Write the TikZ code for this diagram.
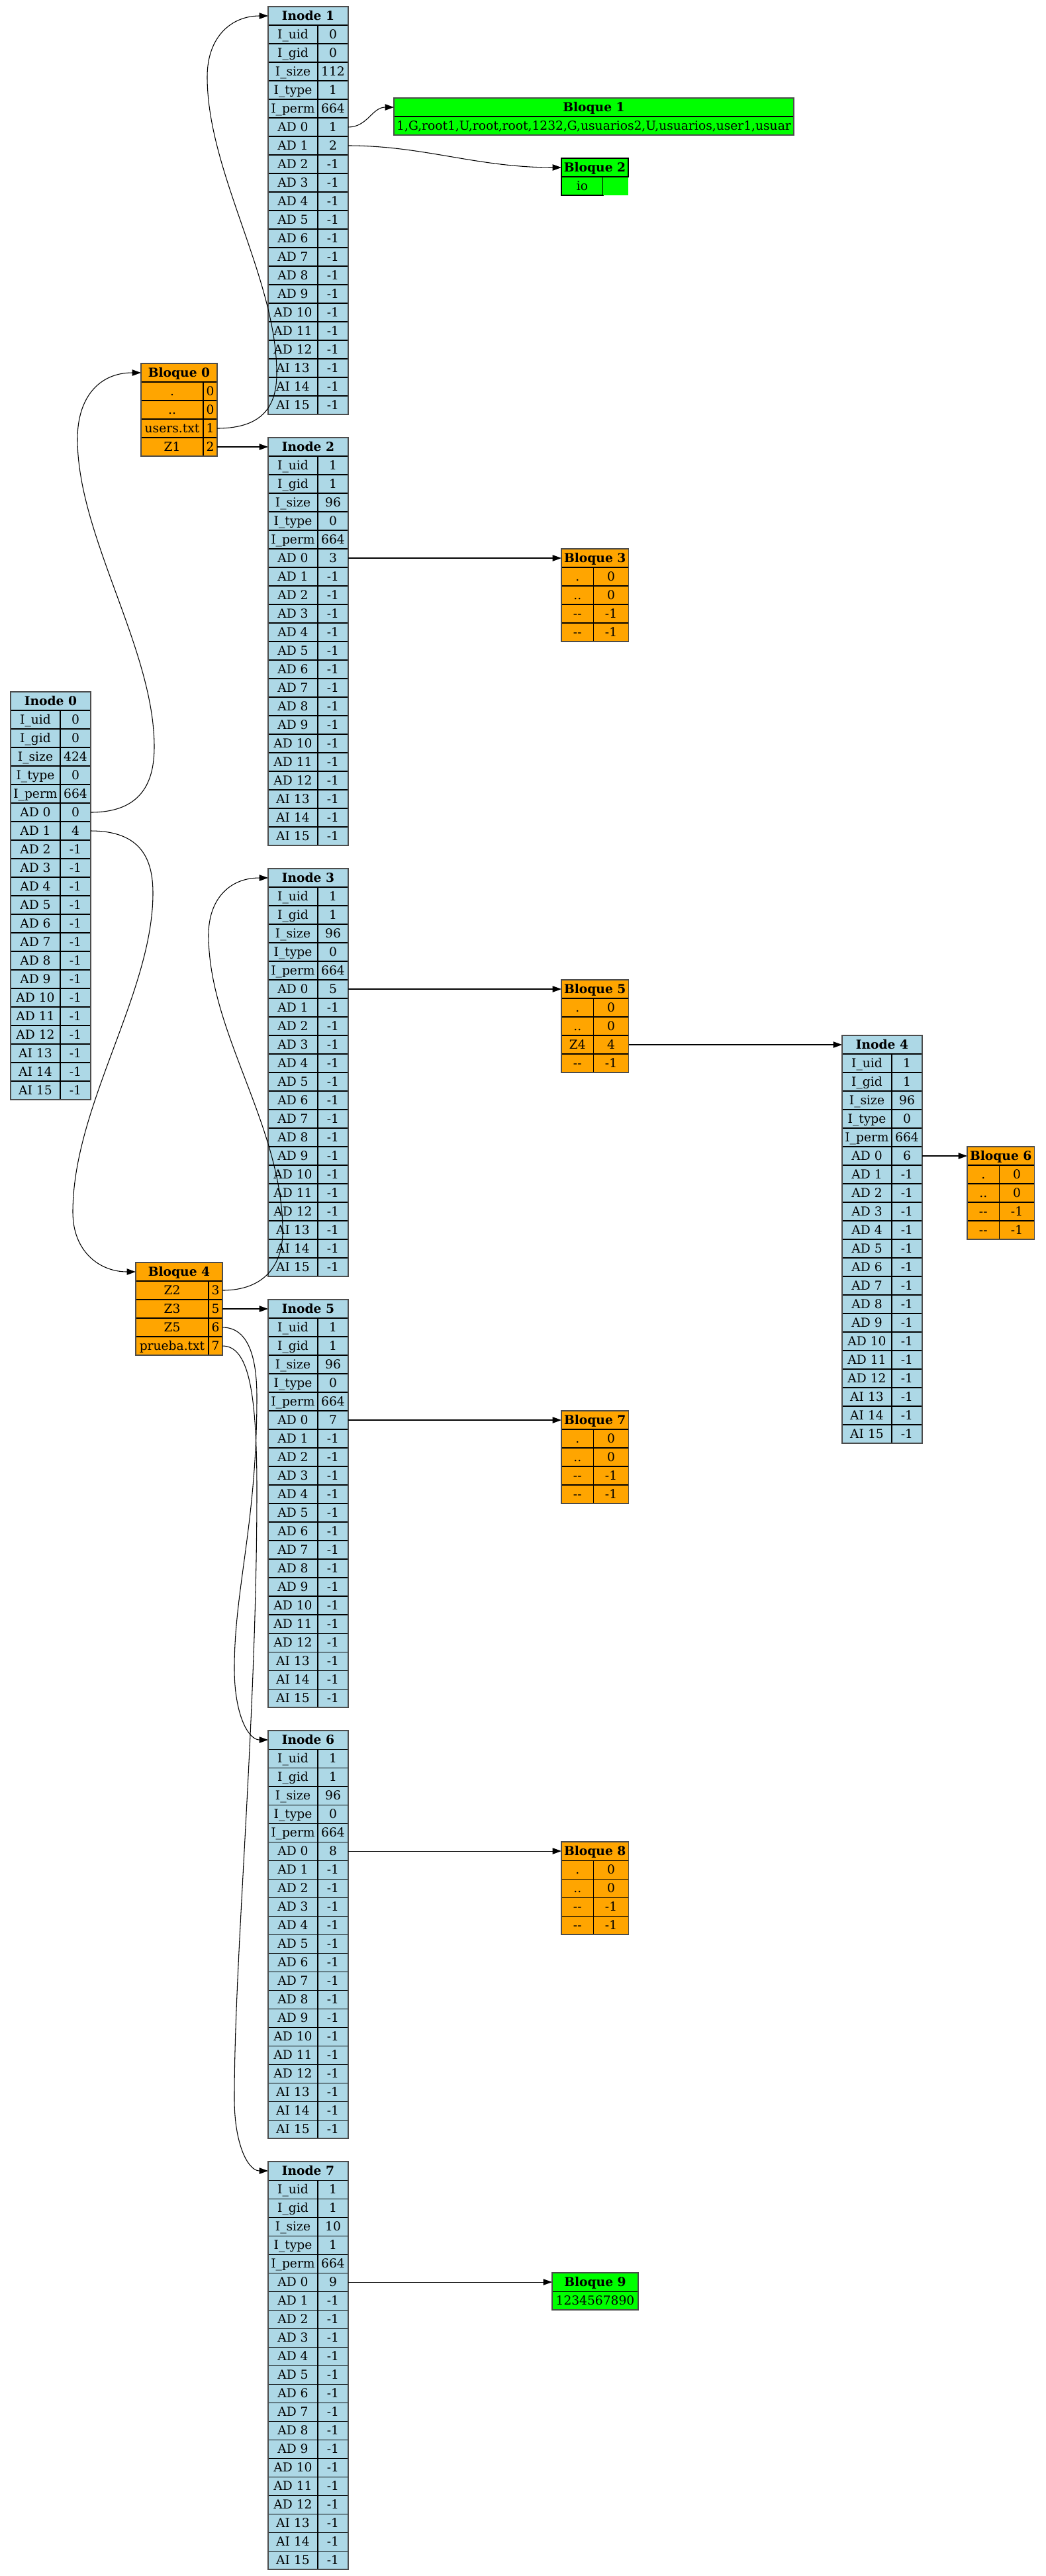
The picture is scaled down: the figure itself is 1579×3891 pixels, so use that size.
\documentclass[tikz,border=0pt]{standalone}
\usepackage{fontspec}
\setmainfont{DejaVu Serif}
\usetikzlibrary{arrows.meta,calc}
\definecolor{inodeblue}{HTML}{ADD8E6}
\definecolor{blockorange}{HTML}{FFA500}
\definecolor{blockgreen}{HTML}{00FF00}
\newcommand\fsz{\fontsize{14pt}{16pt}\selectfont}
\tikzset{
  cell/.style={draw=black, line width=0.8pt, inner sep=0pt, outer sep=0pt,
    minimum height=21pt, text height=11pt, text depth=1.2pt, anchor=north west, font=\fsz},
  hcell/.style={cell, font=\fsz\bfseries},
  frame/.style={draw=black!70, line width=1.2pt},
  edge/.style={draw=black, line width=0.8pt, -{Triangle[length=10pt,width=7pt]}}
}
\newcommand\adzero{0}
\newcommand\adone{-1}
% #1 name #2 x #3 y #4 number #5 uid #6 gid #7 size #8 type #9 perm
\newcommand\inode[9]{%
  \node[hcell, fill=inodeblue, minimum width=90.75pt] (#1) at (#2,#3) {Inode #4};
  \foreach \lab/\val [count=\k] in {I\_uid/#5, I\_gid/#6, I\_size/#7, I\_type/#8, I\_perm/#9,
      AD 0/\adzero, AD 1/\adone, AD 2/-1, AD 3/-1, AD 4/-1, AD 5/-1, AD 6/-1, AD 7/-1,
      AD 8/-1, AD 9/-1, AD 10/-1, AD 11/-1, AD 12/-1, AI 13/-1, AI 14/-1, AI 15/-1} {
    \node[cell, fill=inodeblue, minimum width=56.25pt] (#1-l\k) at ({#2},{#3+28*\k}) {\lab};
    \node[cell, fill=inodeblue, minimum width=34.5pt] (#1-v\k) at (#1-l\k.north east) {\val};
  }
  \draw[frame] (#1.north west) rectangle (#1-v21.south east);
}
% #1 name #2 x #3 y #4 title #5 left width #6 right width #7 rows
\newcommand\dirblock[7]{%
  \node[hcell, fill=blockorange, minimum width={#5+#6}] (#1) at (#2,#3) {#4};
  \foreach \lab/\val [count=\k] in {#7} {
    \node[cell, fill=blockorange, minimum width=#5] (#1-l\k) at ({#2},{#3+28*\k}) {\lab};
    \node[cell, fill=blockorange, minimum width=#6] (#1-v\k) at (#1-l\k.north east) {\val};
  }
  \draw[frame] (#1.north west) rectangle (#1-v4.south east);
}
\begin{document}
\begin{tikzpicture}[x=0.75pt, y=-0.75pt]
\useasboundingbox (0,0) rectangle (1579,3891);
\fill[white] (0,0) rectangle (1579,3891);

% inodes
\renewcommand\adzero{0}\renewcommand\adone{4}
\inode{inode0}{16}{1045}{0}{0}{0}{424}{0}{664}
\renewcommand\adzero{1}\renewcommand\adone{2}
\inode{inode1}{405}{10}{1}{0}{0}{112}{1}{664}
\renewcommand\adzero{3}\renewcommand\adone{-1}
\inode{inode2}{405}{661}{2}{1}{1}{96}{0}{664}
\renewcommand\adzero{5}
\inode{inode3}{405}{1312}{3}{1}{1}{96}{0}{664}
\renewcommand\adzero{6}
\inode{inode4}{1272}{1564}{4}{1}{1}{96}{0}{664}
\renewcommand\adzero{7}
\inode{inode5}{405}{1963}{5}{1}{1}{96}{0}{664}
\renewcommand\adzero{8}
\inode{inode6}{405}{2614}{6}{1}{1}{96}{0}{664}
\renewcommand\adzero{9}
\inode{inode7}{405}{3265}{7}{1}{1}{10}{1}{664}

% directory blocks
\dirblock{bloque0}{213}{549}{Bloque 0}{70.5pt}{15.75pt}{{.}/0, {..}/0, users.txt/1, Z1/2}
\dirblock{bloque4}{205}{1907}{Bloque 4}{82.5pt}{15.75pt}{Z2/3, Z3/5, Z5/6, prueba.txt/7}
\dirblock{bloque3}{848}{829}{Bloque 3}{36.4pt}{39.75pt}{{.}/0, {..}/0, {-}{-}/-1, {-}{-}/-1}
\dirblock{bloque5}{848}{1480}{Bloque 5}{36.4pt}{39.75pt}{{.}/0, {..}/0, Z4/4, {-}{-}/-1}
\dirblock{bloque6}{1461}{1732}{Bloque 6}{36.4pt}{39.75pt}{{.}/0, {..}/0, {-}{-}/-1, {-}{-}/-1}
\dirblock{bloque7}{848}{2131}{Bloque 7}{36.4pt}{39.75pt}{{.}/0, {..}/0, {-}{-}/-1, {-}{-}/-1}
\dirblock{bloque8}{848}{2782}{Bloque 8}{36.4pt}{39.75pt}{{.}/0, {..}/0, {-}{-}/-1, {-}{-}/-1}

% file blocks
\node[hcell, fill=blockgreen, minimum width=453pt] (bloque1) at (595,148) {Bloque 1};
\node[cell, fill=blockgreen, minimum width=453pt] (bloque1-c) at (bloque1.south west) {1,G,root1,U,root,root,1232,G,usuarios2,U,usuarios,user1,usuar};
\draw[frame] (bloque1.north west) rectangle (bloque1-c.south east);

\node[hcell, fill=blockgreen, minimum width=75.75pt] (bloque2) at (848,239) {Bloque 2};
\node[cell, fill=blockgreen, minimum width=47.25pt] (bloque2-c) at (bloque2.south west) {io};
\node[cell, draw=none, fill=blockgreen, minimum width=28.5pt] (bloque2-e) at (bloque2-c.north east) {};
\draw[line width=0.8pt] (bloque2-c.north east) -- (bloque2.south east);

\node[hcell, fill=blockgreen, minimum width=97.5pt] (bloque9) at (834,3433) {Bloque 9};
\node[cell, fill=blockgreen, minimum width=97.5pt] (bloque9-c) at (bloque9.south west) {1234567890};
\draw[frame] (bloque9.north west) rectangle (bloque9-c.south east);

% connectors
\draw[edge] (inode0-v6.east) .. controls (215,1227) and (233,1180) .. (233,1128)
  .. controls (233,980) and (117,810) .. (117,663)
  .. controls (117,600) and (150,563) .. (bloque0.west);
\draw[edge] (inode0-v7.east) .. controls (215,1255) and (231,1300) .. (231,1349)
  .. controls (231,1500) and (110,1670) .. (110,1831)
  .. controls (110,1890) and (150,1921) .. (bloque4.west);
\draw[edge] (bloque0-v3.east) .. controls (400,647) and (418,610) .. (418,564)
  .. controls (418,420) and (313,260) .. (313,116)
  .. controls (313,55) and (350,24) .. (inode1.west);
\draw[edge] (bloque0-v4.east) -- (inode2.west);
\draw[edge] (inode1-v6.east) .. controls (555,192) and (562,162) .. (bloque1.west);
\draw[edge] (inode1-v7.east) .. controls (640,220) and (720,253) .. (bloque2.west);
\draw[edge] (inode2-v6.east) -- (bloque3.west);
\draw[edge] (bloque4-v1.east) .. controls (400,1949) and (427,1910) .. (427,1860)
  .. controls (427,1700) and (315,1560) .. (315,1412)
  .. controls (315,1360) and (345,1326) .. (inode3.west);
\draw[edge] (bloque4-v2.east) -- (inode5.west);
\draw[edge] (bloque4-v3.east) .. controls (375,2005) and (388,2050) .. (388,2110)
  .. controls (388,2300) and (354,2400) .. (354,2520)
  .. controls (354,2590) and (375,2628) .. (inode6.west);
\draw[edge] (bloque4-v4.east) .. controls (375,2033) and (388,2100) .. (388,2250)
  .. controls (388,2600) and (354,2950) .. (354,3170)
  .. controls (354,3240) and (375,3279) .. (inode7.west);
\draw[edge] (inode3-v6.east) -- (bloque5.west);
\draw[edge] (bloque5-v3.east) -- (inode4.west);
\draw[edge] (inode4-v6.east) -- (bloque6.west);
\draw[edge] (inode5-v6.east) -- (bloque7.west);
\draw[edge] (inode6-v6.east) -- (bloque8.west);
\draw[edge] (inode7-v6.east) -- (bloque9.west);
\end{tikzpicture}
\end{document}
